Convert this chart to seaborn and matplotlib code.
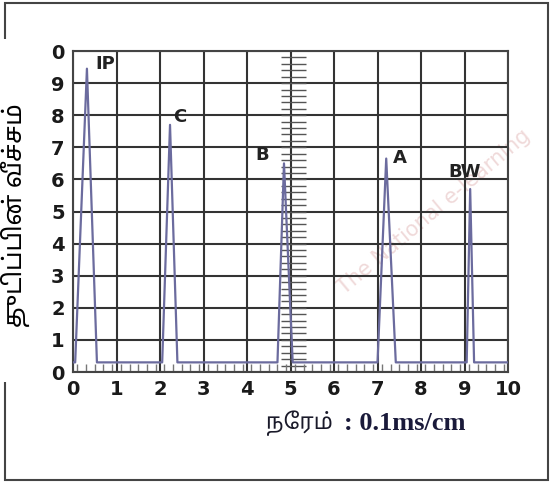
import numpy as np
import pandas as pd
import seaborn as sns
import matplotlib.pyplot as plt
from matplotlib.patches import Rectangle

# A-scan trace (time in 0.1 ms/cm divisions, amplitude in divisions)
time = [0.0, 0.05, 0.32, 0.55, 2.05, 2.23, 2.4, 4.7, 4.85, 5.05,
        7.0, 7.2, 7.42, 9.05, 9.13, 9.22, 10.0]
amplitude = [0.3, 0.3, 9.45, 0.3, 0.3, 7.7, 0.3, 0.3, 6.5, 0.3,
             0.3, 6.65, 0.3, 0.3, 5.7, 0.3, 0.3]

echo_labels = ['IP', 'C', 'B', 'A', 'BW']
echo_x = [0.75, 2.46, 4.34, 7.52, 9.01]
echo_y = [9.6, 7.95, 6.76, 6.67, 6.23]

xtick_labels = ['0', '1', '2', '3', '4', '5', '6', '7', '8', '9', '10']
ytick_labels = ['0', '1', '2', '3', '4', '5', '6', '7', '8', '9', '0']

ylabel = 'துடிப்பின் வீச்சம்'
xlabel_unit = 'நேரம்'
xlabel_scale = ': 0.1ms/cm'

sns.set_style('white')
tamil = ['Noto Sans Tamil', 'Lohit Tamil', 'Noto Serif Tamil', 'FreeSerif', 'DejaVu Sans']

d = pd.DataFrame({'time': time, 'amplitude': amplitude})

fig = plt.figure(figsize=(5.51, 4.84), dpi=100)
ax = fig.add_axes([0.1325, 0.2314, 0.7895, 0.6632])

# faint watermark
ax.text(8.3, 5.0, 'The National e-learning', rotation=40, fontsize=15,
        color='#ecd0d0', ha='center', va='center', zorder=0, alpha=0.8)

# graticule rulers
ax.hlines(np.arange(0.2, 10, 0.2), 4.78, 5.35, color='#555555', lw=1.0, zorder=1)
ax.vlines(np.arange(0.1, 10, 0.2), 0.0, 0.25, color='#777777', lw=1.0, zorder=1)

sns.lineplot(data=d, x='time', y='amplitude', ax=ax, color='#6b6b9e', lw=1.6,
             sort=False, estimator=None, zorder=3)

ax.set_xlim(0, 10)
ax.set_ylim(0, 10)
ax.set_xticks(range(11))
ax.set_yticks(range(11))
ax.set_xticklabels(xtick_labels)
ax.set_yticklabels(ytick_labels)
ax.tick_params(length=0, labelsize=14, colors='#1a1a1a', pad=6)
for lab in ax.get_xticklabels() + ax.get_yticklabels():
    lab.set_fontweight('bold')
ax.grid(True, color='#333333', lw=1.5)
for s in ax.spines.values():
    s.set_color('#444444')
    s.set_linewidth(1.5)
ax.set_xlabel('')
ax.set_ylabel('')

for lab, x, y in zip(echo_labels, echo_x, echo_y):
    ax.text(x, y, lab, fontsize=13, fontweight='bold', color='#222222',
            ha='center', va='center', zorder=4)

# outer frame with the label cut-out on the left
fig.patches.append(Rectangle((0.009, 0.008), 0.985, 0.985, transform=fig.transFigure,
                             fill=False, edgecolor='#444444', lw=1.5))
fig.patches.append(Rectangle((0.0, 0.21), 0.05, 0.71, transform=fig.transFigure,
                             facecolor='white', edgecolor='none'))

fig.text(0.028, 0.555, ylabel, rotation=90, fontsize=18, fontweight='bold',
         family=tamil, ha='center', va='center', color='black')
fig.text(0.604, 0.126, xlabel_unit, fontsize=16, family=tamil,
         ha='right', va='center', color='#1a1a2a')
fig.text(0.624, 0.124, xlabel_scale, fontsize=19, fontweight='bold',
         family='Liberation Serif', ha='left', va='center', color='#1a1a3a')

fig.savefig('out.png', dpi=100)
